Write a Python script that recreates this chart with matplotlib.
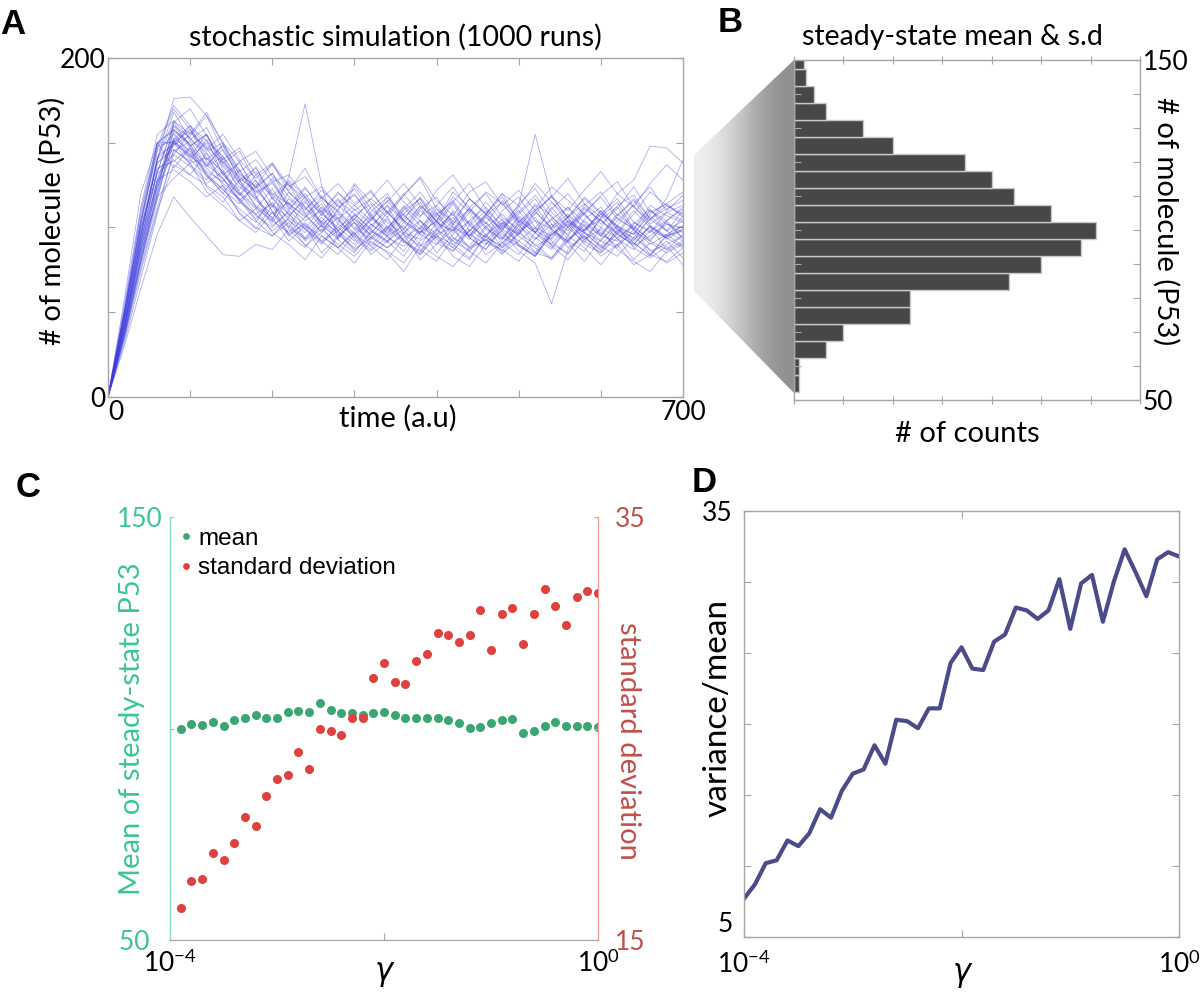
import numpy as np
import matplotlib
matplotlib.use("Agg")
import matplotlib.pyplot as plt
from matplotlib.patches import Polygon
from matplotlib.colors import LinearSegmentedColormap

# ---------- data ----------

# panel A: a subset of stochastic runs, sampled every 20 time units
time_au = [0, 20, 40, 60, 80, 100, 120, 140, 160, 180, 200, 220, 240, 260, 280, 300, 320, 340,
           360, 380, 400, 420, 440, 460, 480, 500, 520, 540, 560, 580, 600, 620, 640, 660, 680, 700]

runs = [
    [0, 40, 88, 128, 152, 160, 148, 138, 130, 121, 126, 112, 104, 110, 98, 105, 94, 100, 108, 96, 90, 102, 111, 99, 93, 104, 97, 88, 101, 109, 95, 92, 103, 98, 94, 101],
    [0, 50, 102, 148, 172, 160, 151, 142, 128, 135, 120, 114, 106, 118, 109, 99, 112, 120, 104, 97, 108, 115, 101, 94, 110, 118, 104, 99, 92, 105, 112, 100, 96, 108, 114, 106],
    [0, 32, 70, 108, 146, 138, 141, 129, 116, 124, 110, 96, 102, 91, 98, 87, 94, 105, 92, 84, 96, 100, 88, 93, 86, 98, 104, 90, 85, 97, 92, 88, 99, 86, 90, 95],
    [0, 52, 110, 150, 150, 157, 145, 150, 133, 140, 127, 131, 118, 124, 112, 119, 107, 115, 126, 113, 104, 118, 109, 121, 114, 103, 111, 124, 116, 108, 119, 127, 112, 104, 117, 140],
    [0, 36, 80, 118, 150, 142, 155, 134, 120, 108, 114, 100, 93, 101, 88, 97, 84, 92, 99, 87, 80, 94, 86, 79, 91, 99, 85, 82, 95, 88, 78, 90, 97, 84, 80, 88],
    [0, 45, 95, 140, 176, 177, 166, 150, 139, 145, 130, 122, 135, 117, 110, 126, 115, 106, 119, 129, 111, 104, 117, 108, 98, 112, 126, 115, 106, 118, 109, 101, 114, 124, 110, 119],
    [0, 42, 92, 135, 139, 147, 130, 123, 109, 100, 95, 103, 89, 97, 106, 93, 86, 95, 101, 90, 83, 77, 88, 96, 85, 92, 100, 89, 81, 93, 99, 87, 80, 74, 86, 91],
    [0, 48, 98, 142, 149, 154, 166, 145, 132, 124, 138, 121, 111, 119, 105, 113, 121, 109, 99, 111, 118, 102, 95, 107, 115, 101, 93, 105, 112, 98, 108, 117, 103, 97, 109, 104],
    [0, 38, 82, 122, 160, 153, 140, 148, 128, 116, 108, 115, 99, 92, 100, 107, 95, 88, 97, 104, 91, 86, 98, 107, 94, 89, 83, 96, 102, 90, 85, 94, 101, 92, 87, 96],
    [0, 58, 120, 150, 135, 147, 124, 115, 128, 112, 104, 130, 173, 125, 93, 107, 114, 100, 92, 86, 99, 106, 95, 103, 91, 84, 97, 105, 93, 99, 108, 96, 90, 101, 95, 99],
    [0, 43, 94, 140, 168, 152, 159, 140, 147, 131, 138, 125, 117, 108, 120, 113, 104, 118, 107, 99, 113, 124, 110, 102, 116, 105, 97, 111, 120, 107, 100, 113, 119, 105, 111, 116],
    [0, 34, 74, 110, 137, 131, 125, 118, 104, 111, 97, 90, 81, 95, 88, 79, 92, 85, 74, 89, 96, 83, 77, 90, 98, 86, 79, 55, 87, 95, 83, 90, 78, 84, 92, 82],
    [0, 50, 105, 150, 157, 149, 136, 142, 126, 118, 105, 121, 112, 100, 114, 123, 108, 96, 110, 117, 103, 115, 126, 111, 100, 109, 119, 106, 98, 112, 104, 96, 108, 121, 113, 107],
    [0, 42, 88, 128, 156, 144, 133, 127, 139, 119, 104, 97, 106, 114, 98, 90, 102, 95, 86, 100, 109, 94, 89, 101, 88, 96, 106, 92, 84, 99, 105, 93, 87, 98, 104, 93],
    [0, 46, 100, 138, 146, 139, 152, 131, 122, 136, 117, 126, 108, 116, 102, 125, 111, 103, 96, 110, 101, 114, 98, 108, 120, 104, 97, 112, 100, 91, 106, 115, 99, 110, 102, 97],
    [0, 37, 80, 120, 162, 170, 154, 137, 126, 113, 106, 92, 101, 85, 95, 103, 89, 81, 94, 100, 85, 96, 104, 91, 87, 80, 93, 102, 88, 95, 86, 99, 91, 83, 96, 89],
    [0, 50, 104, 148, 151, 140, 131, 120, 111, 103, 118, 104, 97, 108, 100, 92, 105, 113, 96, 89, 103, 97, 109, 95, 88, 101, 110, 99, 91, 104, 96, 108, 100, 93, 102, 100],
    [0, 40, 86, 124, 145, 151, 137, 146, 129, 122, 112, 128, 118, 109, 121, 110, 117, 128, 115, 106, 122, 131, 117, 108, 120, 113, 155, 118, 110, 122, 133, 120, 112, 126, 137, 128],
    [0, 30, 64, 96, 118, 106, 95, 84, 83, 90, 87, 99, 90, 82, 94, 103, 91, 86, 79, 92, 99, 88, 81, 95, 105, 90, 84, 97, 91, 80, 93, 101, 88, 82, 89, 78],
    [0, 55, 112, 155, 163, 155, 168, 149, 134, 120, 127, 113, 124, 109, 98, 111, 102, 95, 108, 117, 103, 98, 112, 120, 106, 99, 114, 107, 95, 109, 118, 105, 99, 113, 107, 103],
    [0, 44, 92, 132, 140, 131, 144, 124, 117, 105, 115, 101, 94, 106, 96, 88, 101, 110, 97, 93, 107, 116, 102, 94, 89, 103, 94, 87, 100, 108, 97, 89, 102, 111, 98, 104],
    [0, 39, 84, 126, 153, 145, 136, 149, 131, 124, 132, 114, 107, 98, 110, 100, 93, 99, 112, 101, 94, 104, 96, 90, 102, 113, 100, 95, 107, 101, 92, 104, 113, 101, 93, 99],
    [0, 47, 96, 138, 148, 160, 141, 133, 119, 128, 113, 106, 118, 102, 108, 96, 104, 116, 103, 112, 99, 92, 104, 112, 101, 96, 108, 119, 105, 98, 110, 99, 94, 105, 113, 108],
    [0, 36, 78, 116, 158, 149, 131, 120, 134, 118, 101, 109, 93, 104, 97, 86, 98, 92, 83, 97, 104, 90, 98, 84, 91, 102, 89, 94, 106, 92, 85, 97, 89, 95, 103, 94],
    [0, 50, 102, 146, 170, 158, 146, 155, 140, 129, 137, 124, 130, 117, 126, 114, 122, 108, 119, 130, 116, 107, 121, 127, 113, 122, 110, 118, 129, 114, 106, 120, 128, 148, 147, 138],
    [0, 42, 90, 128, 134, 127, 118, 125, 108, 99, 113, 96, 88, 102, 93, 85, 97, 106, 92, 84, 95, 90, 82, 96, 103, 89, 83, 98, 92, 86, 100, 94, 81, 91, 85, 90],
    [0, 46, 95, 140, 150, 137, 128, 141, 121, 112, 103, 117, 108, 97, 111, 120, 106, 99, 113, 104, 96, 110, 102, 115, 104, 96, 109, 100, 112, 103, 95, 107, 116, 102, 109, 113],
    [0, 37, 80, 120, 151, 143, 132, 122, 114, 126, 109, 100, 115, 103, 95, 108, 99, 92, 106, 115, 100, 108, 94, 87, 101, 110, 97, 90, 103, 97, 110, 99, 92, 107, 98, 92],
    [0, 48, 100, 132, 162, 148, 155, 138, 145, 127, 119, 110, 123, 111, 104, 96, 109, 118, 104, 97, 111, 101, 93, 106, 99, 108, 117, 102, 96, 111, 104, 97, 110, 100, 94, 107],
    [0, 40, 85, 118, 129, 138, 121, 113, 104, 97, 109, 95, 103, 92, 84, 96, 89, 101, 93, 85, 98, 109, 94, 87, 99, 92, 85, 100, 108, 94, 87, 98, 91, 84, 95, 98],
    [0, 44, 92, 134, 143, 156, 147, 132, 119, 131, 117, 108, 99, 112, 105, 94, 106, 97, 111, 121, 108, 100, 95, 108, 118, 103, 113, 99, 106, 117, 108, 101, 96, 110, 104, 112],
    [0, 52, 108, 150, 158, 147, 137, 129, 115, 108, 98, 105, 92, 99, 90, 83, 94, 88, 96, 81, 90, 99, 87, 93, 84, 97, 90, 82, 93, 101, 89, 83, 94, 87, 79, 85],
    [0, 38, 82, 125, 152, 141, 150, 136, 124, 117, 129, 111, 120, 107, 117, 103, 96, 109, 120, 107, 113, 102, 117, 108, 99, 114, 123, 109, 100, 113, 121, 107, 117, 105, 98, 110],
    [0, 50, 104, 145, 155, 142, 135, 126, 117, 107, 100, 110, 101, 95, 88, 98, 107, 94, 89, 98, 93, 86, 99, 92, 103, 95, 88, 81, 92, 102, 95, 106, 99, 90, 96, 101],
    [0, 41, 90, 133, 160, 148, 155, 139, 127, 133, 119, 127, 112, 103, 116, 108, 99, 113, 104, 118, 106, 98, 111, 103, 94, 107, 99, 115, 103, 93, 105, 112, 98, 92, 104, 111],
    [0, 35, 76, 112, 143, 136, 126, 133, 116, 104, 95, 106, 99, 90, 102, 95, 87, 99, 91, 104, 94, 88, 101, 110, 96, 90, 83, 96, 104, 97, 89, 101, 93, 100, 87, 92],
    [0, 47, 97, 140, 163, 152, 144, 131, 138, 123, 132, 118, 110, 122, 113, 105, 117, 109, 99, 113, 104, 121, 112, 100, 108, 97, 110, 118, 106, 114, 102, 111, 124, 109, 114, 121],
    [0, 42, 87, 126, 151, 158, 139, 128, 120, 111, 123, 107, 116, 101, 94, 105, 98, 91, 103, 96, 104, 92, 86, 100, 93, 106, 98, 93, 104, 97, 88, 96, 90, 101, 94, 88],
]

# panel B: histogram of steady-state P53 (bin centres, counts)
p53_bins = [55, 60, 65, 70, 75, 80, 85, 90, 95, 100, 105, 110, 115, 120, 125, 130, 135, 140, 145, 150]
p53_counts = [2, 2, 13, 20, 47, 47, 87, 100, 116, 122, 104, 89, 80, 69, 40, 28, 13, 8, 5, 4]

# panel C: log10(gamma) grid, mean and s.d. of steady state
gamma_exp_c = [-3.9, -3.8, -3.7, -3.6, -3.5, -3.4, -3.3, -3.2, -3.1, -3.0,
               -2.9, -2.8, -2.7, -2.6, -2.5, -2.4, -2.3, -2.2, -2.1, -2.0,
               -1.9, -1.8, -1.7, -1.6, -1.5, -1.4, -1.3, -1.2, -1.1, -1.0,
               -0.9, -0.8, -0.7, -0.6, -0.5, -0.4, -0.3, -0.2, -0.1, 0.0]
mean_ss = [99.8, 101.0, 100.9, 101.5, 100.6, 102.1, 102.5, 103.2, 102.4, 102.6,
           103.8, 104.2, 103.8, 106.0, 104.3, 103.7, 103.7, 103.2, 103.7, 104.0,
           103.1, 102.6, 102.6, 102.5, 102.4, 102.1, 101.4, 100.2, 100.3, 101.3,
           101.9, 102.3, 99.0, 99.4, 100.7, 101.6, 100.7, 100.6, 100.6, 100.3]
sd_ss = [16.5, 17.8, 17.9, 19.1, 18.8, 19.6, 20.8, 20.4, 21.8, 22.6,
         22.8, 23.9, 23.1, 25.0, 24.9, 24.7, 25.5, 25.5, 27.4, 28.1,
         27.2, 27.1, 28.2, 28.5, 29.5, 29.4, 29.1, 29.4, 30.6, 28.7,
         30.4, 30.7, 29.0, 30.4, 31.6, 30.8, 29.9, 31.2, 31.5, 31.4]

# panel D: Fano factor vs gamma
gamma_exp_d = [-4.0] + gamma_exp_c
fano = [7.7, 8.7, 10.2, 10.4, 11.8, 11.4, 12.3, 14.0, 13.4, 15.3,
        16.5, 16.8, 18.5, 17.2, 20.3, 20.2, 19.7, 21.1, 21.1, 24.3,
        25.4, 23.9, 23.8, 25.8, 26.3, 28.2, 28.0, 27.4, 28.0, 30.2,
        26.7, 29.9, 30.5, 27.2, 30.0, 32.3, 30.7, 29.0, 31.6, 32.1, 31.8]

# ---------- styling ----------

W, H = 1200, 992
plt.rcParams["font.family"] = ["Lato", "DejaVu Sans"]
plt.rcParams["mathtext.fontset"] = "custom"
plt.rcParams["mathtext.rm"] = "Lato"
plt.rcParams["mathtext.it"] = "Lato:italic"

SPINE = "#a6a6a6"
GREEN_TXT = "#3cc596"
GREEN_DOT = "#3ba672"
RED_TXT = "#c0504d"
RED_DOT = "#e0403e"
LABEL_FS = 21
TICK_FS = 19


def rect(l, t, r, b):
    return [l / W, 1 - b / H, (r - l) / W, (b - t) / H]


def box_style(ax):
    for s in ax.spines.values():
        s.set_color(SPINE)
        s.set_linewidth(1.0)
    ax.tick_params(direction="in", length=5, color=SPINE, labelsize=TICK_FS,
                   top=True, right=True, pad=2)


def side_label(axis, text, x, y, rot, fs=LABEL_FS, **kw):
    # place an axis label by its centre, in axes coordinates
    lab = axis.set_label_text(text, fontsize=fs, rotation=rot, ha="center",
                              va="center", rotation_mode="default", **kw)
    axis.set_label_coords(x, y)
    return lab


fig = plt.figure(figsize=(W / 100, H / 100), dpi=100)

# ---------- A ----------
axA = fig.add_axes(rect(108, 58, 683, 397))
for run in runs:
    axA.plot(time_au, run, color="#3c3cdc", lw=0.6, alpha=0.42)
axA.set_xlim(0, 700)
axA.set_ylim(0, 200)
box_style(axA)
axA.set_xticks([0, 100, 200, 300, 400, 500, 600, 700])
axA.set_xticklabels(["0", "", "", "", "", "", "", "700"])
axA.get_xticklabels()[0].set_ha("left")
axA.set_yticks([0, 50, 100, 150, 200])
axA.set_yticklabels(["0", "", "", "", "200"])
axA.set_title("stochastic simulation (1000 runs)", fontsize=20.5, pad=9)
side_label(axA.xaxis, "time (a.u)", 0.504, -0.062, 0)
side_label(axA.yaxis, "# of molecule (P53)", -0.097, 0.52, 90)

# ---------- B ----------
axB = fig.add_axes(rect(794, 60, 1140, 400))
axB.barh(p53_bins, p53_counts, height=5, color="#474747", edgecolor="#c8c8c8", linewidth=1.0)
axB.set_xlim(0, 140)
axB.set_ylim(50, 150)
box_style(axB)
axB.yaxis.tick_right()
axB.tick_params(left=True, right=True, bottom=True, top=True)
axB.tick_params(axis="x", direction="inout", length=6)
axB.set_xticks([0, 20, 40, 60, 80, 100, 120, 140])
axB.set_xticklabels([])
axB.set_yticks([50, 60, 70, 80, 90, 100, 110, 120, 130, 140, 150])
axB.set_yticklabels(["50", "", "", "", "", "", "", "", "", "", "150"])
axB.set_title("steady-state mean & s.d", fontsize=20.5, pad=11, x=0.457)
side_label(axB.xaxis, "# of counts", 0.5, -0.1, 0)
side_label(axB.yaxis, "# of molecule (P53)", 1.075, 0.526, -90)

# gradient wedge linking A to B
gax = fig.add_axes([0, 0, 1, 1], zorder=-1)
gax.set_xlim(0, W)
gax.set_ylim(H, 0)
gax.axis("off")
wedge = Polygon([(694, 155), (794, 60), (794, 393), (694, 291)], closed=True,
                facecolor="none", edgecolor="none")
gax.add_patch(wedge)
grad_cmap = LinearSegmentedColormap.from_list("grad", ["#f3f3f3", "#8c8c8c"])
img = gax.imshow([[0, 1]], cmap=grad_cmap, extent=[694, 794, 393, 60],
                 aspect="auto", interpolation="bicubic")
img.set_clip_path(wedge)

# ---------- C ----------
axC = fig.add_axes(rect(170, 517, 598, 940))
gam_c = [10 ** e for e in gamma_exp_c]
axC.set_xscale("log")
h1, = axC.plot(gam_c, mean_ss, "o", color=GREEN_DOT, ms=6.5, mec="none", label="mean")
axC.set_xlim(1e-4, 1)
axC.set_ylim(50, 150)
axC2 = axC.twinx()
h2, = axC2.plot(gam_c, sd_ss, "o", color=RED_DOT, ms=6.5, mec="none", label="standard deviation")
axC2.set_ylim(15, 35)
for a in (axC, axC2):
    a.spines["top"].set_visible(False)
    a.spines["bottom"].set_color(SPINE)
    a.spines["left"].set_color("#7fdcb8")
    a.spines["right"].set_color("#f09a9a")
axC.set_xticks([1e-4, 1e-2, 1])
axC.set_xticklabels([r"$10^{-4}$", "", r"$10^{0}$"])
axC.xaxis.set_minor_locator(matplotlib.ticker.NullLocator())
axC.tick_params(axis="x", direction="in", length=5, color=SPINE, labelsize=TICK_FS, pad=7)
axC.set_yticks([50, 100, 150])
axC.set_yticklabels(["50  ", "", "150"])
axC.tick_params(axis="y", direction="in", length=3, color="#7fdcb8", labelcolor=GREEN_TXT,
                labelsize=TICK_FS, pad=5)
axC2.set_yticks([15, 25, 35])
axC2.set_yticklabels(["15", "", "35"])
axC2.tick_params(axis="y", direction="in", length=3, color="#f09a9a", labelcolor=RED_TXT,
                 labelsize=TICK_FS, pad=12)
side_label(axC.yaxis, "Mean of steady-state P53", -0.089, 0.5, 90, color=GREEN_TXT)
side_label(axC2.yaxis, "standard deviation", 1.07, 0.47, -90, color=RED_TXT)
side_label(axC.xaxis, "γ", 0.5, -0.078, 0, fs=22, family="DejaVu Sans", style="italic")
axC.legend(handles=[h1, h2], loc="upper left", frameon=False, handlelength=0.4,
           handletextpad=0.3, borderaxespad=0.05, labelspacing=0.3, markerscale=0.75,
           prop={"family": "Liberation Sans", "size": 17.5})

# ---------- D ----------
axD = fig.add_axes(rect(744, 511, 1179, 937))
gam_d = [10 ** e for e in gamma_exp_d]
axD.plot(gam_d, fano, color="#4b4b8c", lw=3)
axD.set_xscale("log")
axD.set_xlim(1e-4, 1)
axD.set_ylim(5, 35)
box_style(axD)
axD.set_xticks([1e-4, 1e-2, 1])
axD.set_xticklabels([r"$10^{-4}$", "", r"$10^{0}$"])
axD.xaxis.set_minor_locator(matplotlib.ticker.NullLocator())
axD.tick_params(axis="x", pad=10)
axD.tick_params(axis="y", pad=8)
axD.set_yticks([5, 10, 15, 20, 25, 30, 35])
axD.set_yticklabels(["5", "", "", "", "", "", "35"])
axD.get_yticklabels()[0].set_va("bottom")
side_label(axD.yaxis, "variance/mean", -0.06, 0.537, 90, fs=24)
side_label(axD.xaxis, "γ", 0.5, -0.085, 0, fs=22, family="DejaVu Sans", style="italic")

# ---------- panel letters ----------
for letter, x, y in [("A", 0, 25), ("B", 718, 23), ("C", 16, 487), ("D", 692, 483)]:
    fig.text(x / W, 1 - y / H, letter, fontsize=25, fontweight="bold",
             family="Liberation Sans", ha="left", va="center")

fig.savefig("out.png", dpi=100)
